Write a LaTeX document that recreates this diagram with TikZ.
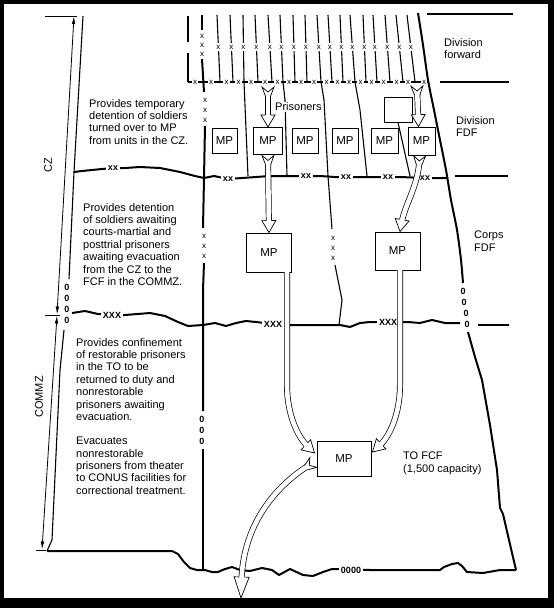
\documentclass[tikz,border=0pt]{standalone}
\usepackage{fontspec}
\setmainfont{Liberation Sans}
\usetikzlibrary{arrows.meta,calc}
\begin{document}
\begin{tikzpicture}[x=1pt,y=-1pt,
  txt/.style={font=\fontsize{11}{12.4}\selectfont, align=left, anchor=north west, inner sep=0pt},
  mpbox/.style={draw, line width=0.9pt, fill=white, font=\fontsize{11.5}{11.5}\selectfont, inner sep=0pt},
  xm/.style={font=\fontsize{8}{8}\selectfont, fill=white, inner xsep=0.6pt, inner ysep=2.2pt},
  xxm/.style={font=\fontsize{9}{9}\selectfont\bfseries, fill=white, inner xsep=2pt, inner ysep=1.5pt},
  oom/.style={font=\fontsize{9}{9}\selectfont\bfseries, fill=white, inner sep=0.5pt},
  thinln/.style={line width=1.1pt},
  bnd/.style={line width=2pt, line join=round},
  lbnd/.style={line width=1.1pt},
  tickln/.style={line width=1.3pt},
  dimln/.style={line width=0.8pt},
  shaft/.style={double=white, double distance=4.6pt, line width=0.7pt},
  pics/ahead/.style={code={
    \fill[white] (-7,-12) -- (0,0) -- (7,-12) -- cycle;
    \draw[line width=0.7pt, line join=miter] (-2.65,-12) -- (-7,-12) -- (0,0) -- (7,-12) -- (2.65,-12);}},
  pics/bighead/.style={code={
    \fill[white] (-7.5,-21) -- (0,0) -- (7.5,-21) -- cycle;
    \draw[line width=0.7pt, line join=miter] (-2.65,-21) -- (-7.5,-21) -- (0,0) -- (7.5,-21) -- (2.65,-21);}},
  pics/atail/.style={code={
    \fill[white] (-2.65,8) -- (-6,-1) -- (0,4) -- (6,-1) -- (2.65,8) -- cycle;
    \draw[line width=0.7pt, line join=miter] (-2.65,8) -- (-6,-1) -- (0,4) -- (6,-1) -- (2.65,8);}},
]
% frame
\fill[black] (0,0) rectangle (554,608);
\fill[white] (4,4) rectangle (548,598);
\useasboundingbox (0,0) rectangle (554,608);

% right tick lines
\draw[tickln] (427,14) -- (513,14);
\draw[tickln] (440,82) -- (509,82);
\draw[tickln] (455,176) -- (508,176);
\draw[tickln] (478,325) -- (509,325);

% dimension lines
\draw[dimln] (45,16) -- (77,16);
\draw[dimln] (45,315) -- (60,315);
\draw[dimln] (36,550) -- (46,550);
\coordinate (dtop) at (74,16);
\coordinate (dmid1) at (57,314.5);
\coordinate (dmid2) at (57,315.5);
\coordinate (dbot) at (42,549.5);
\draw[dimln, {Latex[length=8pt,width=3.6pt]}-{Latex[length=8pt,width=3.6pt]}] (dtop) -- (dmid1);
\draw[dimln, {Latex[length=8pt,width=3.6pt]}-{Latex[length=8pt,width=3.6pt]}] (dmid2) -- (dbot);
\node[rotate=90, font=\fontsize{11}{11}\selectfont, inner sep=0pt] (cz) at (48,165) {CZ};
\node[rotate=90, font=\fontsize{11}{11}\selectfont, inner sep=0pt] (commz) at (39,397) {COMMZ};

% left boundary
\draw[lbnd] (83,16) -- (74,172) -- (69,279);
\draw[lbnd] (64,330) -- (60,370) -- (52,540) -- (47,551);
\foreach \yy [count=\i] in {287,298,309,320} \node[oom] (lo\i) at (67,\yy) {0};

% top lines
\foreach \xt/\xb [count=\i] in {217/220, 230/233, 243/244, 255/258, 268/272, 280/283, 293/295, 305/307, 317/321, 328/332, 340/343, 350/355, 363/366, 373/377, 385/390, 396/403, 407/415}
  \draw[thinln] (\xt,15) -- node[pos=0.48, xm] (tx\i) {x} (\xb,82);
% long continuations
\draw[thinln] (244,82) -- (248,176);
\draw[thinln] (283,82) -- (285,100) -- (287,176);
\draw[thinln] (321,82) -- (324,100) -- (328,176) -- (332,229);
\draw[thinln] (335,265) -- (342,300) -- (339,325);
\foreach \yy [count=\i] in {238,248,258} \node[xm, inner ysep=0.8pt] (l3x\i) at (333,\yy) {x};
\draw[thinln] (355,82) -- (360,110) -- (367,176);

% horizontal y=82
\draw[line width=1.5pt] (188,82) -- (428,82);
\foreach \xx [count=\i] in {195,211,226.5,238.5,251,265,277.5,289,301,314,326.5,337.5,349,360.5,371.5,383.5,396.5,408,424}
  \node[xm, inner ysep=0.5pt, inner xsep=1.2pt] (hx\i) at (\xx,82) {x};

% thick bar A
\draw[line width=2.6pt] (188,16) -- (188,42);
\draw[line width=2.6pt] (188,53) -- (188,82);

% center line
\draw[bnd] (202,15) -- (202,30);
\foreach \yy [count=\i] in {36,45,54} \node[xm, inner ysep=0.5pt] (ca\i) at (202,\yy) {x};
\draw[bnd] (202,59) -- (204,92);
\foreach \yy [count=\i] in {100,110,120} \node[xm, inner ysep=0.5pt] (cb\i) at (205,\yy) {x};
\draw[bnd] (205,126) -- (204,178) -- (203,228);
\foreach \yy [count=\i] in {236,246,256} \node[xm, inner ysep=0.5pt] (cc\i) at (204,\yy) {x};
\draw[bnd] (204,263) -- (203,290) -- (203,411);
\foreach \yy [count=\i] in {419,430,441} \node[oom] (co\i) at (202,\yy) {0};
\draw[bnd] (203,449) -- (203,570);

% right boundary
\draw[bnd] plot[smooth] coordinates {(418,13) (423,45) (428,80) (434,110) (440,140) (446,170) (451,200) (457,230) (461,260) (463,283)};
\foreach \xx/\yy [count=\i] in {463/291, 464/302, 466/313, 467/324} \node[oom] (ro\i) at (\xx,\yy) {0};
\draw[bnd] (468,332) -- (475,357) -- (482,380) -- (490,425) -- (497,470) -- (500,508) -- (503,514) -- (509,540) -- (516,570);

% line y=176
\draw[bnd] (74,172) -- (82,171) -- (92,170) -- (102,169) -- (113,168) -- (125,168) -- (140,167) -- (160,168) -- (180,172) -- (195,176) -- (204,178) -- (214,176) -- (228,179) -- (242,178) -- (256,177) -- (270,176) -- (295,176) -- (320,176) -- (335,177) -- (360,177) -- (385,177) -- (400,177) -- (425,178) -- (448,178);
\foreach \xx/\yy [count=\i] in {113/168, 228/179, 306/176, 346/177, 388/177, 425/178}
  \node[xxm] (xx\i) at (\xx,\yy) {xx};

% line y=325
\draw[bnd] (72,313) -- (85,311) -- (98,314) -- (112,315) -- (125,315) -- (150,313) -- (165,316) -- (178,322) -- (188,326) -- (203,325) -- (215,323) -- (226,326) -- (236,323) -- (246,321) -- (256,322) -- (273,324) -- (290,325) -- (340,325) -- (350,327) -- (360,323) -- (370,322) -- (388,322) -- (408,322) -- (420,323) -- (432,320) -- (445,323) -- (460,323);
\foreach \xx/\yy [count=\i] in {112/315, 273/324, 388/322}
  \node[xxm, font=\fontsize{9}{9}\selectfont\bfseries, inner xsep=1.5pt] (xxx\i) at (\xx,\yy) {XXX};

% bottom boundary
\draw[bnd] (47,551) -- (172,551) -- (178,554) -- (184,562) -- (190,568) -- (197,570) -- (205,570) -- (212,572) -- (218,572) -- (225,569) -- (232,567) -- (240,570) -- (250,571) -- (262,568) -- (272,570) -- (279,575) -- (290,569) -- (303,575) -- (313,576) -- (323,572) -- (332,569) -- (370,570) -- (440,570) -- (444,567) -- (452,564) -- (458,563) -- (462,566) -- (467,572) -- (483,573) -- (500,570) -- (516,570);
\node[oom, inner xsep=1.5pt] (bo) at (351,570) {0000};

% texts
\node[txt] (t1) at (89,99) {Provides temporary\\detention of soldiers\\turned over to MP\\from units in the CZ.};
\node[txt] (t2) at (83,203) {Provides detention\\of soldiers awaiting\\courts-martial and\\posttrial prisoners\\awaiting evacuation\\from the CZ to the\\FCF in the COMMZ.};
\node[txt] (t3) at (76,338) {Provides confinement\\of restorable prisoners\\in the TO to be\\returned to duty and\\nonrestorable\\prisoners awaiting\\evacuation.};
\node[txt] (t4) at (76,437) {Evacuates\\nonrestorable\\prisoners from theater\\to CONUS facilities for\\correctional treatment.};
\node[txt] (divfwd) at (444,38) {Division\\forward};
\node[txt] (divfdf) at (456,116) {Division\\FDF};
\node[txt] (corpsfdf) at (474,231) {Corps\\FDF};
\node[txt] (tofcf) at (403,452) {TO FCF\\(1,500 capacity)};
\node[font=\fontsize{11}{11}\selectfont, fill=white, inner sep=1pt, anchor=west] (pris) at (274,107) {Prisoners};

% boxes
\node[mpbox, minimum width=25pt, minimum height=25pt] (mp1) at (224.5,140.5) {MP};
\node[mpbox, minimum width=29pt, minimum height=27pt] (mp2) at (268,141) {MP};
\node[mpbox, minimum width=26pt, minimum height=25pt] (mp3) at (305,140.5) {MP};
\node[mpbox, minimum width=26pt, minimum height=25pt] (mp4) at (345,140.5) {MP};
\node[mpbox, minimum width=27pt, minimum height=25pt] (mp5) at (384.5,140.5) {MP};
\node[mpbox, minimum width=27pt, minimum height=28pt] (mp6) at (421.5,141) {MP};
\node[mpbox, minimum width=28pt, minimum height=25pt] (eb) at (398,109.5) {};
\draw[thinln] (eb.south) -- (410,176);
\node[mpbox, minimum width=45pt, minimum height=39pt] (cmp1) at (269,252.5) {MP};
\node[mpbox, minimum width=45pt, minimum height=38pt] (cmp2) at (397.5,251) {MP};
\node[mpbox, minimum width=54pt, minimum height=35pt] (fcf) at (344,458.5) {MP};

% hollow arrows
\coordinate (a1t) at (268,88);
\draw[shaft, shorten <=5pt, shorten >=10pt] (a1t) -- (mp2.north);
\pic at (a1t) {atail};
\pic at (mp2.north) {ahead};
\coordinate (a2t) at ($(mp2.south)+(0,1.5)$);
\draw[shaft, shorten <=5pt, shorten >=10pt] (a2t) -- (cmp1.north);
\pic[rotate=0.7] at (a2t) {atail};
\pic[rotate=0.7] at (cmp1.north) {ahead};
\coordinate (a3t) at (417,87);
\coordinate (a3e) at ($(mp6.north)+(-3,0)$);
\draw[shaft, shorten <=5pt, shorten >=10pt] (a3t) -- (a3e);
\pic[rotate=1.4] at (a3t) {atail};
\pic[rotate=1.4] at (a3e) {ahead};
\coordinate (a4t) at ($(mp6.south)+(-2,1.5)$);
\coordinate (a4e) at ($(cmp2.north)+(2.5,0)$);
\draw[shaft, shorten <=5pt, shorten >=10pt] (a4t) .. controls (418,185) and (405,205) .. (a4e);
\pic[rotate=-3] at (a4t) {atail};
\pic[rotate=-10.5] at (a4e) {ahead};
\coordinate (a5t) at (287,272);
\coordinate (a5e) at ($(fcf.west)+(-2,-5.5)$);
\draw[shaft, shorten >=10pt] (a5t) -- (287,385) .. controls (287,415) and (298,437) .. (a5e);
\pic[rotate=46.7] at (a5e) {ahead};
\coordinate (a6t) at (400,270);
\coordinate (a6e) at ($(fcf.east)+(1,-6.5)$);
\draw[shaft, shorten >=10pt] (a6t) -- (400,385) .. controls (400,415) and (389,437) .. (a6e);
\pic[rotate=-46.8] at (a6e) {ahead};
\coordinate (a7t) at ($(fcf.west)+(-4,4.5)$);
\coordinate (a7e) at (241,598);
\draw[shaft, shorten <=5pt, shorten >=18pt] (a7t) .. controls (270,490) and (243,530) .. (a7e);
\pic[rotate=-54.6] at (a7t) {atail};
\pic[rotate=-1.7] at (a7e) {bighead};
\end{tikzpicture}
\end{document}
